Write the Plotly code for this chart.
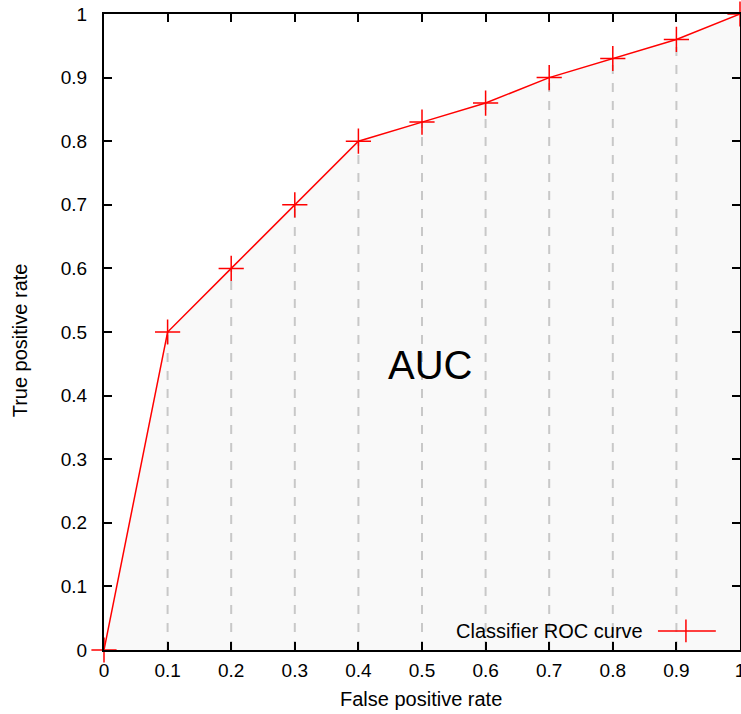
import plotly.graph_objects as go

fpr = [0.0, 0.1, 0.2, 0.3, 0.4, 0.5, 0.6, 0.7, 0.8, 0.9, 1.0]
tpr = [0.0, 0.5, 0.6, 0.7, 0.8, 0.83, 0.86, 0.9, 0.93, 0.96, 1.0]
tick_vals = [0, 0.1, 0.2, 0.3, 0.4, 0.5, 0.6, 0.7, 0.8, 0.9, 1]
tick_text = ["0", "0.1", "0.2", "0.3", "0.4", "0.5", "0.6", "0.7", "0.8", "0.9", "1"]
series_name = "Classifier ROC curve"

RED = "#ff0000"
FONT = "Liberation Sans, Arial, Helvetica, sans-serif"

# dashed drop lines from each inner point to the x axis
dx, dy = [], []
for x, y in zip(fpr[1:-1], tpr[1:-1]):
    dx += [x, x, None]
    dy += [0, y, None]

fig = go.Figure()
fig.add_trace(go.Scatter(x=fpr, y=tpr, mode="lines", fill="tozeroy",
                         fillcolor="#f9f9f9", line=dict(width=0),
                         hoverinfo="skip", showlegend=False))
fig.add_trace(go.Scatter(x=dx, y=dy, mode="lines",
                         line=dict(color="#c8c8c8", width=2, dash="9px,9px"),
                         hoverinfo="skip", showlegend=False))
fig.add_trace(go.Scatter(x=fpr, y=tpr, mode="lines+markers", name=series_name,
                         line=dict(color=RED, width=1.5),
                         marker=dict(symbol="cross-thin", size=18,
                                     line=dict(color=RED, width=1.5)),
                         cliponaxis=False, showlegend=False))

def axis(standoff):
    return dict(range=[0, 1], tickvals=tick_vals, ticktext=tick_text,
                ticks="inside", ticklen=8, tickwidth=1.5, tickcolor="black",
                showline=True, linecolor="black", linewidth=2, mirror="ticks",
                showgrid=False, zeroline=False, ticklabelstandoff=standoff,
                ticklabeloverflow="allow", automargin=False,
                tickfont=dict(family=FONT, size=19, color="black"))

fig.update_layout(
    width=741, height=714,
    margin=dict(l=104, r=1, t=14, b=64, autoexpand=False),
    paper_bgcolor="white", plot_bgcolor="white",
    xaxis=axis(2),
    yaxis=axis(11),
    showlegend=False,
    annotations=[
        dict(text="AUC", x=0.513, y=0.448, xref="x", yref="y", showarrow=False,
             font=dict(family=FONT, size=40, color="black")),
        dict(text="False positive rate", x=0.498, y=-0.077, xref="paper", yref="paper",
             showarrow=False, xanchor="center", yanchor="middle",
             font=dict(family=FONT, size=20, color="black")),
        dict(text="True positive rate", x=-0.132, y=0.487, xref="paper", yref="paper",
             showarrow=False, textangle=-90, xanchor="center", yanchor="middle",
             font=dict(family=FONT, size=20, color="black")),
        dict(text=series_name, x=0.851, y=0.030, xref="paper", yref="paper",
             showarrow=False, xanchor="right", yanchor="middle",
             font=dict(family=FONT, size=20, color="black")),
    ],
    shapes=[
        dict(type="line", xref="paper", yref="paper", x0=0.871, x1=0.962,
             y0=0.030, y1=0.030, line=dict(color=RED, width=1.5)),
        dict(type="line", xref="paper", yref="paper", x0=0.915, x1=0.915,
             y0=0.012, y1=0.048, line=dict(color=RED, width=1.5)),
    ],
)

fig.write_html("out.html")
